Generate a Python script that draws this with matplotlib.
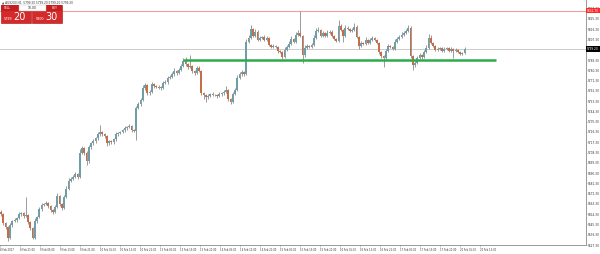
import matplotlib
matplotlib.use("Agg")
import matplotlib.pyplot as plt
import numpy as np
from matplotlib.patches import Rectangle

# AUS200 H1 candles (open = previous close)
first_open = 5656.3
closes = [
    5654.5, 5646.6, 5643.1, 5633.4, 5644.8, 5648.4, 5649.2, 5651.0, 5654.5, 5655.4,
    5652.8, 5653.7, 5647.5, 5642.2, 5633.4, 5648.4, 5651.9, 5658.9, 5662.5, 5663.4,
    5664.2, 5661.6, 5658.1, 5656.3, 5660.7, 5670.4, 5663.4, 5659.8, 5669.5, 5676.6,
    5683.6, 5685.4, 5687.2, 5689.8, 5687.2, 5708.3, 5711.9, 5708.3, 5701.3, 5712.8,
    5716.3, 5718.0, 5720.7, 5724.2, 5726.0, 5724.2, 5722.5, 5716.3, 5718.0, 5717.2,
    5719.8, 5724.2, 5725.1, 5726.0, 5727.7, 5729.5, 5730.4, 5731.3, 5727.7, 5726.9,
    5747.1, 5750.7, 5754.2, 5764.8, 5767.4, 5760.4, 5761.3, 5768.3, 5766.6, 5765.7,
    5764.8, 5765.2, 5769.2, 5770.1, 5773.6, 5774.5, 5777.1, 5779.8, 5778.0, 5780.7,
    5784.2, 5788.6, 5786.0, 5783.3, 5784.2, 5779.8, 5778.0, 5782.4, 5779.8, 5760.4,
    5758.6, 5756.9, 5757.7, 5759.5, 5759.0, 5758.6, 5757.7, 5759.5, 5760.4, 5761.3,
    5763.0, 5755.1, 5752.4, 5759.5, 5763.0, 5773.6, 5777.1, 5778.9, 5777.1, 5805.4,
    5808.9, 5816.8, 5810.6, 5814.2, 5807.1, 5808.9, 5809.8, 5807.1, 5808.9, 5802.7,
    5801.0, 5801.8, 5801.0, 5797.4, 5796.5, 5792.1, 5798.3, 5801.0, 5803.6, 5808.0,
    5805.4, 5811.5, 5813.3, 5810.6, 5793.9, 5800.1, 5801.8, 5801.0, 5802.7, 5808.9,
    5815.1, 5815.9, 5810.6, 5813.3, 5810.6, 5813.3, 5814.2, 5810.6, 5808.0, 5806.2,
    5819.5, 5815.9, 5810.6, 5817.7, 5816.8, 5815.1, 5815.9, 5818.6, 5809.8, 5801.8,
    5804.5, 5803.6, 5807.1, 5804.5, 5807.1, 5808.9, 5807.1, 5804.5, 5796.5, 5793.0,
    5791.2, 5797.4, 5801.8, 5801.0, 5799.2, 5805.4, 5808.0, 5809.8, 5811.5, 5813.3,
    5815.1, 5817.7, 5793.0, 5785.1, 5786.8, 5791.2, 5793.9, 5792.1, 5796.5, 5800.1,
    5808.9, 5804.5, 5801.8, 5798.3, 5799.2, 5799.6, 5797.4, 5799.2, 5799.6, 5797.4,
    5799.2, 5797.4, 5798.3, 5796.5, 5794.8, 5795.7, 5799.2,
]
# wick lengths (points above body top / below body bottom)
upper_wick = [
    1.5, 1.0, 1.2, 0.8, 2.0, 1.0, 1.5, 1.0, 2.0, 1.2,
    1.0, 15.8, 1.0, 0.8, 1.0, 2.5, 1.2, 2.0, 1.5, 1.0,
    1.5, 1.0, 0.8, 1.0, 2.0, 2.5, 1.0, 1.0, 2.0, 2.0,
    2.0, 1.5, 1.0, 1.5, 1.0, 3.0, 2.5, 1.0, 1.0, 2.5,
    1.5, 2.0, 1.5, 2.0, 6.2, 1.5, 1.0, 1.0, 1.5, 1.0,
    1.5, 2.0, 1.5, 1.0, 1.5, 2.0, 1.5, 2.0, 1.0, 1.0,
    2.0, 1.5, 2.0, 2.5, 2.0, 1.0, 1.5, 2.0, 1.0, 1.0,
    1.5, 1.0, 2.0, 1.5, 2.0, 1.5, 2.0, 2.5, 1.0, 1.5,
    2.0, 2.5, 3.0, 1.0, 9.7, 1.0, 1.0, 2.0, 1.5, 1.0,
    1.0, 1.0, 1.5, 1.0, 1.5, 1.0, 1.0, 1.5, 1.0, 2.0,
    4.0, 1.0, 0.8, 2.0, 2.0, 2.5, 2.0, 1.5, 1.0, 2.0,
    2.0, 3.0, 1.0, 2.0, 1.0, 1.5, 1.0, 1.5, 1.5, 1.0,
    1.0, 1.5, 1.0, 1.0, 1.0, 1.0, 2.0, 1.5, 2.0, 2.5,
    1.0, 2.0, 2.0, 19.2, 1.0, 2.0, 1.5, 1.0, 1.5, 2.0,
    2.5, 2.0, 1.0, 1.5, 1.0, 2.0, 1.5, 1.0, 1.0, 1.0,
    5.3, 1.5, 1.0, 2.0, 1.5, 1.0, 1.5, 3.0, 1.0, 1.0,
    1.5, 1.0, 2.0, 1.0, 1.5, 1.5, 1.0, 1.0, 1.0, 1.0,
    1.0, 2.0, 1.5, 1.0, 1.0, 2.0, 1.5, 1.5, 2.0, 1.5,
    1.5, 2.0, 1.0, 1.0, 1.5, 2.0, 1.5, 1.0, 2.0, 2.0,
    3.0, 2.6, 1.0, 1.0, 1.5, 1.0, 1.0, 1.5, 1.0, 1.0,
    1.5, 1.0, 1.5, 1.0, 1.0, 1.0, 1.5,
]
lower_wick = [
    1.5, 2.0, 1.5, 2.7, 1.0, 1.5, 1.0, 1.5, 1.0, 1.5,
    2.0, 1.0, 1.5, 2.0, 1.0, 1.0, 1.5, 1.0, 1.5, 1.0,
    1.0, 1.5, 2.0, 1.5, 1.0, 1.0, 2.0, 1.5, 1.0, 1.0,
    1.0, 1.5, 1.0, 1.0, 2.0, 1.5, 1.0, 2.0, 4.0, 2.0,
    1.0, 1.5, 1.0, 1.0, 1.0, 1.5, 1.5, 2.0, 1.0, 1.5,
    1.0, 1.0, 1.5, 1.0, 1.0, 1.0, 1.5, 1.0, 1.5, 1.0,
    8.0, 1.0, 1.5, 1.0, 1.5, 2.0, 1.5, 1.0, 1.5, 1.0,
    1.0, 1.5, 1.0, 1.0, 1.5, 1.0, 1.0, 1.5, 1.5, 1.0,
    1.0, 1.0, 1.5, 1.5, 1.0, 2.0, 1.5, 1.0, 1.0, 1.5,
    3.0, 4.0, 1.5, 1.0, 1.5, 1.0, 2.0, 1.0, 1.5, 1.5,
    1.0, 1.5, 2.0, 1.0, 1.0, 1.0, 1.0, 1.5, 2.0, 1.0,
    1.0, 1.0, 1.5, 1.0, 1.5, 1.0, 1.0, 1.5, 1.0, 1.5,
    1.5, 1.0, 1.0, 1.5, 1.0, 2.0, 1.0, 1.0, 1.0, 1.0,
    1.5, 1.0, 1.0, 1.0, 7.1, 1.5, 1.0, 1.5, 1.0, 1.0,
    1.0, 1.0, 1.5, 1.0, 1.5, 1.0, 1.0, 1.5, 1.0, 1.0,
    1.0, 1.0, 5.2, 1.0, 1.0, 1.5, 1.0, 1.0, 1.5, 2.5,
    1.0, 1.5, 1.0, 1.5, 1.0, 1.0, 1.0, 1.5, 2.0, 1.5,
    7.9, 1.5, 1.0, 1.5, 1.0, 1.0, 1.0, 1.0, 1.0, 1.0,
    1.0, 1.0, 1.5, 4.4, 1.5, 1.0, 1.0, 1.5, 1.0, 1.0,
    1.0, 1.0, 1.0, 1.0, 1.0, 1.5, 1.0, 1.0, 1.0, 1.0,
    1.0, 6.2, 1.0, 1.0, 1.5, 1.0, 1.0,
]

y_ticks = [5834.3, 5825.3, 5816.3, 5807.3, 5798.3, 5789.3, 5780.3, 5771.3,
           5762.3, 5753.3, 5744.3, 5735.3, 5726.3, 5717.3, 5708.3, 5699.3,
           5690.3, 5681.3, 5672.3, 5663.3, 5654.3, 5645.3, 5636.3, 5627.3]
x_labels = ["8 Feb 2017", "8 Feb 21:00", "9 Feb 05:00", "9 Feb 13:00", "9 Feb 21:00",
            "10 Feb 05:00", "10 Feb 13:00", "10 Feb 21:00", "13 Feb 05:00", "13 Feb 13:00",
            "13 Feb 21:00", "14 Feb 05:00", "14 Feb 13:00", "14 Feb 21:00", "15 Feb 05:00",
            "15 Feb 13:00", "15 Feb 21:00", "16 Feb 05:00", "16 Feb 13:00", "16 Feb 21:00",
            "17 Feb 05:00", "17 Feb 13:00", "17 Feb 21:00", "20 Feb 05:00", "20 Feb 13:00"]

bid = 5799.20
ask = 5800.30
resistance = 5832.70
support = 5789.50
support_from, support_to = 81, 220   # bar index range of the drawn support line

W, H = 600, 254
bar_px = 2.25          # pixels per bar
fig = plt.figure(figsize=(W / 100, H / 100), dpi=100)
ax = fig.add_axes([0, 9 / H, 586 / W, 245 / H])
ax.set_xlim(-0.45, -0.45 + 586 / bar_px)
ax.set_ylim(5628.3, 5841.9)

c = np.array(closes)
o = np.r_[first_open, c[:-1]]
idx = np.arange(len(c))
top = np.maximum(o, c)
bot = np.minimum(o, c)
ax.vlines(idx, bot - np.array(lower_wick), top + np.array(upper_wick),
          color="#8a8a8a", lw=0.6, zorder=2)
up = c >= o
h = np.maximum(top - bot, 0.5)
ax.bar(idx[up], h[up], bottom=bot[up], width=0.72, color="#6e9fa9", lw=0, zorder=3)
ax.bar(idx[~up], h[~up], bottom=bot[~up], width=0.72, color="#c76c45", lw=0, zorder=3)

ax.axhline(resistance, color="#f5a0a0", lw=0.8, zorder=1)
ax.axhline(bid, color="#cccccc", lw=0.7, zorder=1)
ax.hlines(support, support_from, support_to, color="#2eaa4a", lw=1.8, zorder=4)

for s in ["top", "left"]:
    ax.spines[s].set_visible(False)
for s in ["right", "bottom"]:
    ax.spines[s].set_color("#9a9a9a")
    ax.spines[s].set_linewidth(0.7)

# the tick label under the current-price box is hidden in the terminal
ax.yaxis.tick_right()
ax.set_yticks(y_ticks)
ax.set_yticklabels(["" if abs(v - bid) < 3 else f"{v:.2f}" for v in y_ticks])
ax.tick_params(axis="y", length=1.0, width=0.4, labelsize=2.1, pad=0.6,
               colors="#9a9a9a", labelcolor="#333333")
ax.set_xticks(np.arange(len(x_labels)) * (20 / bar_px) - 0.45)
ax.set_xticklabels(x_labels)
ax.tick_params(axis="x", length=1.5, width=0.4, labelsize=1.85, pad=0.8,
               colors="#9a9a9a", labelcolor="#333333")
plt.setp(ax.get_xticklabels(), ha="left")

ytr = ax.get_yaxis_transform()
ax.text(1.002, resistance, f"{resistance:.2f}", transform=ytr, fontsize=2.1,
        color="white", va="center", ha="left", zorder=10,
        bbox=dict(boxstyle="square,pad=0.3", fc="#ff2b2b", ec="none"))
ax.text(1.002, bid, f"{bid:.2f}", transform=ytr, fontsize=2.1,
        color="white", va="center", ha="left", zorder=10,
        bbox=dict(boxstyle="square,pad=0.3", fc="black", ec="none"))

# one-click trading panel and header overlay (pixel coords)
ov = fig.add_axes([0, 0, 1, 1])
ov.set_xlim(0, W)
ov.set_ylim(H, 0)
ov.axis("off")
ov.text(2, 2.3, "\u25b2 AUS200,H1  5799.20 5799.20 5799.20 5799.20", fontsize=2.1,
        color="#333333", va="center", ha="left")
for x0 in (1, 32):
    ov.add_patch(Rectangle((x0, 5), 30, 18, fc="#d42a2a", ec="#a01010", lw=0.4))
    ov.add_patch(Rectangle((x0, 5), 30, 6, fc="#c41e1e", ec="none"))
ov.add_patch(Rectangle((19, 5), 27, 5.5, fc="white", ec="#bbbbbb", lw=0.3))
ov.text(32.5, 7.8, "10.00", fontsize=2.2, color="#222222", ha="center", va="center")
ov.text(4, 8, "SELL", fontsize=2.2, color="white", ha="left", va="center")
ov.text(52, 8, "BUY", fontsize=2.2, color="white", ha="left", va="center")
ov.text(4, 18.5, "5799", fontsize=2.4, color="white", ha="left", va="center")
ov.text(13.5, 17, "20", fontsize=7, color="white", ha="left", va="center")
ov.text(36, 18.5, "5800", fontsize=2.4, color="white", ha="left", va="center")
ov.text(45.5, 17, "30", fontsize=7, color="white", ha="left", va="center")

fig.savefig("out.png", dpi=100)
